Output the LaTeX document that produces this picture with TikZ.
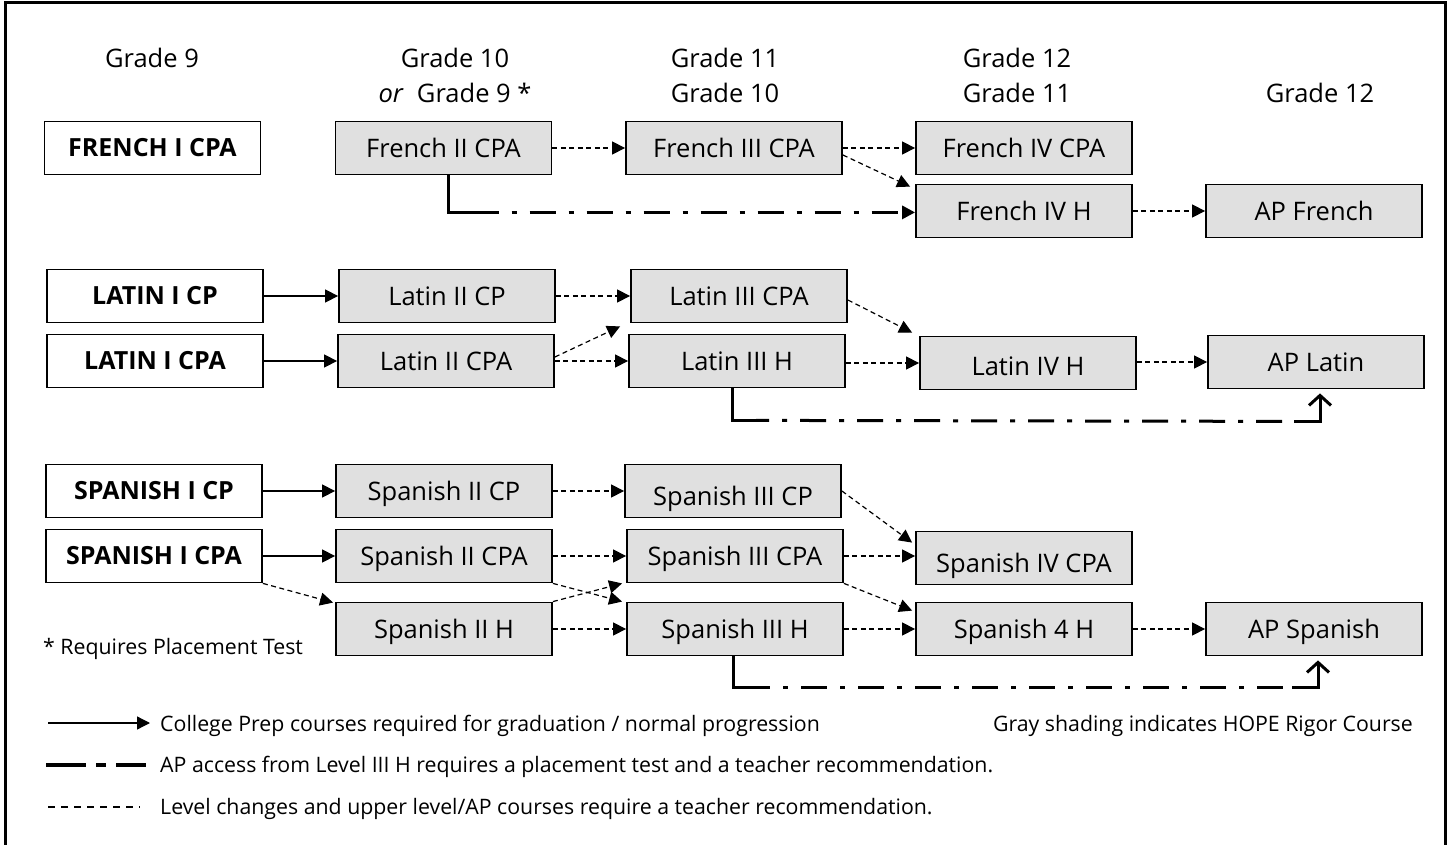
\documentclass[tikz,border=0pt]{standalone}
\usepackage{fontspec}
\setmainfont{Open Sans}
\usetikzlibrary{arrows.meta,calc}
\definecolor{boxgray}{HTML}{E0E0E0}
\begin{document}
\begin{tikzpicture}[x=1pt,y=-1pt,
  lbox/.style={draw=black, line width=1.8pt, minimum width=216pt, minimum height=53pt,
    inner sep=0pt, text height=18.2pt, text depth=0pt, font=\fontsize{25.5}{30}\selectfont},
  hope/.style={lbox, fill=boxgray},
  lvlone/.style={lbox, fill=white, text height=17.9pt, font=\fontsize{25}{30}\selectfont\bfseries},
  hdr/.style={anchor=base, inner sep=0pt, font=\fontsize{25.5}{30}\selectfont},
  legtext/.style={anchor=base west, inner sep=0pt, font=\fontsize{21.3}{25}\selectfont},
  tip/.style={-{Triangle[length=13pt,width=13pt]}},
  solidarr/.style={line width=1.3pt, tip},
  dasharr/.style={line width=1.2pt, dash pattern=on 5pt off 3.5pt, tip},
  apsolid/.style={line width=3pt},
  apline/.style={line width=3pt, dash pattern=on 26pt off 13pt on 5pt off 13pt},
  openup/.style={-{Straight Barb[length=10pt,width=22pt]}}
]
\useasboundingbox (0,0) rectangle (1452,845);
% frame
\draw[line width=3pt] (5,845) -- (5,3) -- (1445,3) -- (1445,845);

% headers
\node[hdr] (h1) at (152,68) {Grade 9};
\node[hdr] (h2a) at (455,68) {Grade 10};
\node[hdr] (h2b) at (455,103) {\textit{or}\ \ Grade 9 *};
\node[hdr] (h3a) at (725,68) {Grade 11};
\node[hdr] (h3b) at (725,103) {Grade 10};
\node[hdr] (h4a) at (1017,68) {Grade 12};
\node[hdr] (h4b) at (1017,103) {Grade 11};
\node[hdr] (h5) at (1320,103) {Grade 12};

% French
\node[lvlone] (fr1) at (152.5,148) {FRENCH I CPA};
\node[hope] (fr2) at (443.5,148) {French II CPA};
\node[hope] (fr3) at (734,148) {French III CPA};
\node[hope] (fr4c) at (1024,148) {French IV CPA};
\node[hope] (fr4h) at (1024,211) {French IV H};
\node[hope] (frap) at (1314,211) {AP French};

% Latin
\node[lvlone] (la1cp) at (155,296) {LATIN I CP};
\node[lvlone] (la1cpa) at (155,361) {LATIN I CPA};
\node[hope] (la2cp) at (447,296) {Latin II CP};
\node[hope] (la2cpa) at (446,361) {Latin II CPA};
\node[hope] (la3cpa) at (739,296) {Latin III CPA};
\node[hope] (la3h) at (737,361) {Latin III H};
\node[hope] (la4h) at (1028,363) {\raisebox{-3pt}{Latin IV H}};
\node[hope] (laap) at (1316,362) {AP Latin};

% Spanish
\node[lvlone] (sp1cp) at (154,491) {SPANISH I CP};
\node[lvlone] (sp1cpa) at (154,556) {SPANISH I CPA};
\node[hope] (sp2cp) at (444,491) {Spanish II CP};
\node[hope] (sp2cpa) at (444,556) {Spanish II CPA};
\node[hope] (sp2h) at (444,629) {Spanish II H};
\node[hope] (sp3cp) at (733,491) {\raisebox{-5pt}{Spanish III CP}};
\node[hope] (sp3cpa) at (735,556) {Spanish III CPA};
\node[hope] (sp3h) at (735,629) {Spanish III H};
\node[hope] (sp4cpa) at (1024,558) {\raisebox{-5pt}{Spanish IV CPA}};
\node[hope] (sp4h) at (1024,629) {Spanish 4 H};
\node[hope] (spap) at (1314,629) {AP Spanish};

\node[legtext] (note) at (43,654) {* Requires Placement Test};

% French connectors
\draw[dasharr] (fr2.east) -- (fr3.west);
\draw[dasharr] (fr3.east) -- (fr4c.west);
\draw[dasharr] ([yshift=-7pt]fr3.east) -- ($(fr4h.north west)+(-5,3)$);
\draw[dasharr] (fr4h.east) -- (frap.west);
\coordinate (frc1) at ($([xshift=5pt]fr2.south)+(0,37)$);
\coordinate (frd1) at ($(frc1)+(24,0)$);
\draw[apsolid] ([xshift=5pt]fr2.south) -- (frc1) -- (frd1);
\draw[apline, tip] (frd1) -- (frd1 -| fr4h.west);

% Latin connectors
\draw[solidarr] (la1cp.east) -- (la2cp.west);
\draw[solidarr] (la1cpa.east) -- (la2cpa.west);
\draw[dasharr] (la2cp.east) -- (la3cpa.west);
\draw[dasharr] ([yshift=4pt]la2cpa.east) -- ($(la3cpa.south west)+(-10,3)$);
\draw[dasharr] (la2cpa.east) -- (la3h.west);
\draw[dasharr] ([yshift=-4pt]la3cpa.east) -- ($(la4h.north west)+(-7,-3)$);
\draw[dasharr] (la3h.east |- la4h.west) -- (la4h.west);
\draw[dasharr] (la4h.east |- laap.west) -- (laap.west);
\coordinate (lac1) at ($([xshift=-5pt]la3h.south)+(0,32)$);
\coordinate (lad1) at ($(lac1)+(24,0)$);
\coordinate (lac2) at ($([xshift=4pt]laap.south)+(0,32)$);
\coordinate (lad2) at ($(lac2)+(-26,0)$);
\draw[apsolid] ([xshift=-5pt]la3h.south) -- (lac1) -- (lad1);
\draw[apline, dash phase=13pt] (lad1) -- (lad2);
\draw[apsolid, openup] (lad2) -- (lac2) -- ([xshift=4pt,yshift=-4pt]laap.south);

% Spanish connectors
\draw[solidarr] (sp1cp.east) -- (sp2cp.west);
\draw[solidarr] (sp1cpa.east) -- (sp2cpa.west);
\draw[dasharr] (sp1cpa.south east) -- ($(sp2h.north west)+(-2,1)$);
\draw[dasharr] (sp2cp.east) -- (sp3cp.west);
\draw[dasharr] (sp2cpa.east) -- (sp3cpa.west);
\draw[dasharr] (sp2cpa.south east) -- ($(sp3h.north west)+(-4,0)$);
\draw[dasharr] (sp2h.north east) -- ($(sp3cpa.south west)+(-4,0)$);
\draw[dasharr] (sp2h.east) -- (sp3h.west);
\draw[dasharr] (sp3cp.east) -- ($(sp4cpa.north west)+(-3,12)$);
\draw[dasharr] (sp3cpa.east) -- (sp3cpa.east -| sp4cpa.west);
\draw[dasharr] (sp3cpa.south east) -- ($(sp4h.north west)+(-3,9)$);
\draw[dasharr] (sp3h.east) -- (sp4h.west);
\draw[dasharr] (sp4h.east) -- (spap.west);
\coordinate (spc1) at ($([xshift=-2pt]sp3h.south)+(0,31)$);
\coordinate (spd1) at ($(spc1)+(24,0)$);
\coordinate (spc2) at ($([xshift=4pt]spap.south)+(0,31)$);
\coordinate (spd2) at ($(spc2)+(-26,0)$);
\draw[apsolid] ([xshift=-2pt]sp3h.south) -- (spc1) -- (spd1);
\draw[apline, dash phase=13pt] (spd1) -- (spd2);
\draw[apsolid, openup] (spd2) -- (spc2) -- ([xshift=4pt,yshift=-4pt]spap.south);

% legend
\coordinate (lg1a) at (48,723);
\coordinate (lg1b) at (150,723);
\draw[solidarr] (lg1a) -- (lg1b);
\node[legtext] (lt1) at (160,731) {College Prep courses required for graduation / normal progression};
\node[legtext, anchor=base east] (lt4) at (1413,731) {Gray shading indicates HOPE Rigor Course};
\coordinate (lg2a) at (46,765);
\coordinate (lg2b) at (146,765);
\draw[line width=4pt, dash pattern=on 40pt off 10pt on 10pt off 10pt] (lg2a) -- (lg2b);
\node[legtext] (lt2) at (160,772) {AP access from Level III H requires a placement test and a teacher recommendation.};
\coordinate (lg3a) at (48,807);
\coordinate (lg3b) at (140,807);
\draw[line width=1.2pt, dash pattern=on 7pt off 6pt] (lg3a) -- (lg3b);
\node[legtext] (lt3) at (160,814) {Level changes and upper level/AP courses require a teacher recommendation.};
\end{tikzpicture}
\end{document}
